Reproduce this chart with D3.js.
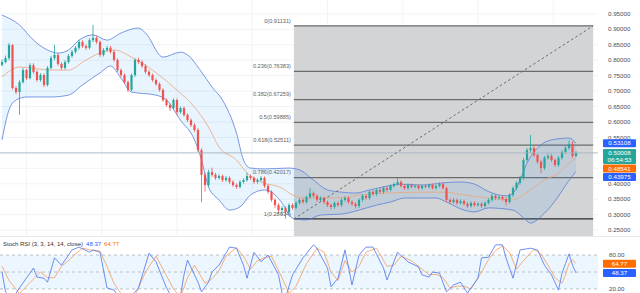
<!DOCTYPE html>
<html><head><meta charset="utf-8">
<script src="https://cdn.jsdelivr.net/npm/d3@7"></script>
<style>html,body{margin:0;padding:0;background:#fff;overflow:hidden}svg{display:block}</style>
</head><body>
<svg id="c" width="640" height="293"></svg>
<script>
// ---- candle data (price units) ----
const opens = [
0.785,0.794,0.807,0.849,0.710,0.697,0.729,0.768,0.742,0.784,
0.762,0.736,0.752,0.720,0.775,0.807,0.817,0.788,0.775,0.794,
0.814,0.827,0.840,0.859,0.846,0.840,0.865,0.872,0.859,0.817,
0.833,0.840,0.827,0.801,0.768,0.752,0.729,0.704,0.752,0.801,
0.794,0.781,0.762,0.752,0.736,0.723,0.704,0.671,0.655,0.645,
0.671,0.632,0.645,0.623,0.606,0.590,0.574,0.509,0.429,0.396,
0.438,0.429,0.419,0.425,0.412,0.419,0.406,0.396,0.390,0.406,
0.412,0.425,0.419,0.406,0.412,0.419,0.393,0.374,0.348,0.331,
0.315,0.322,0.309,0.331,0.322,0.338,0.348,0.341,0.357,0.370,
0.361,0.348,0.354,0.341,0.331,0.325,0.338,0.331,0.348,0.354,
0.341,0.335,0.328,0.348,0.361,0.354,0.374,0.367,0.380,0.374,
0.386,0.380,0.393,0.399,0.406,0.393,0.386,0.396,0.390,0.393,
0.386,0.393,0.390,0.396,0.386,0.393,0.399,0.386,0.348,0.341,
0.348,0.338,0.344,0.335,0.328,0.338,0.331,0.335,0.328,0.338,
0.348,0.361,0.354,0.357,0.351,0.341,0.364,0.386,0.403,0.419,
0.477,0.509,0.516,0.493,0.471,0.451,0.484,0.490,0.477,0.461,
0.484,0.503,0.516,0.529,0.490];
const highs = [
0.802,0.815,0.856,0.852,0.716,0.735,0.775,0.772,0.790,0.790,
0.768,0.758,0.757,0.781,0.814,0.850,0.822,0.793,0.800,0.820,
0.833,0.846,0.866,0.864,0.851,0.871,0.914,0.878,0.864,0.839,
0.846,0.846,0.832,0.806,0.773,0.757,0.734,0.757,0.806,0.808,
0.800,0.787,0.768,0.757,0.741,0.728,0.709,0.676,0.660,0.677,
0.676,0.650,0.650,0.628,0.612,0.596,0.580,0.515,0.435,0.445,
0.452,0.435,0.431,0.430,0.425,0.424,0.412,0.401,0.412,0.418,
0.436,0.430,0.424,0.418,0.425,0.424,0.398,0.379,0.353,0.337,
0.328,0.327,0.337,0.336,0.344,0.354,0.353,0.362,0.386,0.375,
0.366,0.360,0.359,0.346,0.336,0.343,0.343,0.353,0.360,0.359,
0.347,0.340,0.353,0.367,0.366,0.379,0.380,0.385,0.386,0.392,
0.392,0.398,0.404,0.419,0.411,0.398,0.401,0.401,0.398,0.398,
0.398,0.398,0.401,0.401,0.398,0.405,0.404,0.391,0.353,0.354,
0.353,0.350,0.349,0.340,0.343,0.343,0.340,0.340,0.343,0.353,
0.367,0.366,0.362,0.362,0.356,0.369,0.392,0.409,0.425,0.484,
0.516,0.558,0.522,0.498,0.477,0.490,0.497,0.496,0.482,0.490,
0.509,0.522,0.540,0.537,0.506];
const lows = [
0.780,0.790,0.800,0.705,0.690,0.623,0.724,0.736,0.738,0.756,
0.730,0.730,0.713,0.715,0.770,0.800,0.782,0.769,0.770,0.789,
0.808,0.821,0.834,0.840,0.834,0.835,0.859,0.853,0.811,0.812,
0.827,0.821,0.795,0.762,0.746,0.723,0.697,0.699,0.746,0.788,
0.775,0.756,0.746,0.730,0.717,0.698,0.665,0.649,0.636,0.640,
0.622,0.627,0.617,0.600,0.584,0.568,0.503,0.340,0.375,0.390,
0.423,0.413,0.414,0.406,0.407,0.400,0.390,0.384,0.385,0.401,
0.407,0.413,0.400,0.400,0.406,0.387,0.368,0.342,0.322,0.305,
0.298,0.287,0.303,0.316,0.317,0.332,0.335,0.336,0.351,0.355,
0.342,0.342,0.335,0.325,0.318,0.319,0.326,0.325,0.342,0.335,
0.329,0.320,0.322,0.342,0.348,0.348,0.361,0.361,0.368,0.368,
0.374,0.375,0.388,0.394,0.388,0.380,0.381,0.385,0.385,0.381,
0.381,0.385,0.385,0.381,0.381,0.388,0.381,0.342,0.335,0.336,
0.332,0.333,0.330,0.322,0.323,0.326,0.326,0.322,0.323,0.333,
0.342,0.348,0.348,0.345,0.330,0.336,0.358,0.380,0.397,0.413,
0.470,0.500,0.487,0.465,0.435,0.445,0.478,0.471,0.455,0.455,
0.478,0.497,0.510,0.484,0.486];
const closes = [
0.794,0.807,0.849,0.710,0.697,0.729,0.768,0.742,0.784,0.762,
0.736,0.752,0.720,0.775,0.807,0.817,0.788,0.775,0.794,0.814,
0.827,0.840,0.859,0.846,0.840,0.865,0.872,0.859,0.817,0.833,
0.840,0.827,0.801,0.768,0.752,0.729,0.704,0.752,0.801,0.794,
0.781,0.762,0.752,0.736,0.723,0.704,0.671,0.655,0.645,0.671,
0.632,0.645,0.623,0.606,0.590,0.574,0.509,0.429,0.396,0.438,
0.429,0.419,0.425,0.412,0.419,0.406,0.396,0.390,0.406,0.412,
0.425,0.419,0.406,0.412,0.419,0.393,0.374,0.348,0.331,0.315,
0.322,0.309,0.331,0.322,0.338,0.348,0.341,0.357,0.370,0.361,
0.348,0.354,0.341,0.331,0.325,0.338,0.331,0.348,0.354,0.341,
0.335,0.328,0.348,0.361,0.354,0.374,0.367,0.380,0.374,0.386,
0.380,0.393,0.399,0.406,0.393,0.386,0.396,0.390,0.393,0.386,
0.393,0.390,0.396,0.386,0.393,0.399,0.386,0.348,0.341,0.348,
0.338,0.344,0.335,0.328,0.338,0.331,0.335,0.328,0.338,0.348,
0.361,0.354,0.357,0.351,0.341,0.364,0.386,0.403,0.419,0.477,
0.509,0.516,0.493,0.471,0.451,0.484,0.490,0.477,0.461,0.484,
0.503,0.516,0.529,0.490,0.500];

// ---- Bollinger bands (bar index, value) ----
const bbUpperIdx = [0,5,9,13,16,19,22,26,30,34,39,41,46,51,53,57,60,63,67,69,71,75,82,85,89,93,97,101,105,109,114,120,126,131,135,139,144,146,148,150,154,157,162,164];
const bbUpperVal = [0.946,0.914,0.865,0.833,0.823,0.833,0.865,0.882,0.865,0.888,0.904,0.888,0.810,0.826,0.817,0.762,0.713,0.671,0.564,0.477,0.451,0.448,0.451,0.445,0.412,0.380,0.373,0.370,0.380,0.390,0.399,0.396,0.403,0.406,0.399,0.375,0.361,0.370,0.412,0.467,0.526,0.542,0.548,0.531];
const bbLowerIdx = [0,2,4,7,14,19,23,28,31,34,37,44,47,51,55,57,59,62,65,68,71,75,78,80,83,87,91,97,102,107,111,115,124,127,132,135,139,146,149,151,155,159,161,164];
const bbLowerVal = [0.542,0.639,0.671,0.681,0.681,0.687,0.720,0.759,0.781,0.742,0.697,0.687,0.671,0.606,0.542,0.477,0.390,0.348,0.315,0.325,0.364,0.380,0.364,0.338,0.289,0.283,0.299,0.302,0.315,0.331,0.341,0.354,0.354,0.341,0.315,0.309,0.322,0.315,0.290,0.273,0.305,0.360,0.395,0.440];
const bbMidIdx = [0,5,14,19,24,28,32,37,43,49,55,59,62,67,70,74,80,83,87,93,99,102,110,120,126,132,139,146,150,155,159,162,164];
const bbMidVal = [0.746,0.778,0.768,0.768,0.801,0.823,0.833,0.810,0.768,0.713,0.648,0.584,0.519,0.477,0.435,0.406,0.386,0.364,0.354,0.354,0.357,0.364,0.370,0.373,0.373,0.364,0.354,0.348,0.373,0.412,0.435,0.467,0.485];

// ---- Stoch RSI ----
const kIdx = [0,1,3,5,9,10,12,13,15,17,19,20,22,25,26,28,30,32,34,36,39,42,44,47,49,51,52,53,56,57,59,60,62,65,67,69,70,72,74,76,79,80,81,83,86,89,90,91,93,94,96,98,100,102,104,106,109,110,113,116,119,120,122,123,125,127,129,131,133,136,137,139,141,143,144,146,148,151,153,155,157,159,160,161,162,163,164];
const kVal = [50,15,3,22,57,41,39,32,75,62,80,89,94,85,89,85,22,18,0,0,22,83,68,22,0,8,45,71,32,15,32,50,62,94,92,62,39,85,68,80,45,13,4,45,75,98,92,80,57,24,39,89,27,80,94,94,57,36,85,68,59,45,41,50,48,15,27,32,13,39,75,76,98,98,75,39,89,92,89,62,45,18,48,65,82,62,48.37];
const dIdx = [0,2,5,7,11,13,15,17,19,21,23,26,28,30,32,34,36,38,41,44,46,49,51,53,55,58,60,62,64,67,69,71,73,75,77,80,82,84,87,90,92,94,96,98,100,102,104,107,110,112,114,117,120,122,124,126,128,130,132,134,137,139,141,143,145,147,149,152,154,156,158,160,161,162,163,164];
const dVal = [60,35,12,25,50,40,40,60,70,82,92,88,87,60,30,12,3,8,50,78,55,20,5,40,62,30,38,52,78,93,78,55,70,75,78,40,12,25,65,92,85,50,35,70,50,60,85,92,60,62,78,70,55,45,46,40,22,25,25,20,50,72,88,96,85,55,70,90,82,62,40,30,45,65,72,64.77];

// ---- Fibonacci ----
const fibRatios = [0, 0.236, 0.382, 0.5, 0.618, 0.786, 1];
const fibPrices = [0.91131, 0.76383, 0.67259, 0.59885, 0.52511, 0.42017, 0.28634];
const fibStartIdx = 83.4, fibEndIdx = 168.9;

// ---- axis ticks / labels ----
const priceTicks = [0.25,0.30,0.35,0.40,0.45,0.50,0.55,0.60,0.65,0.70,0.75,0.80,0.85,0.90,0.95];
const stochLevels = [80, 50, 20];
const stochTickLabels = [80, 20];
const timeGridIdx = [7, 28.5, 50, 71.5, 93, 114.5, 136, 157.5];
const lastPrice = 0.50008, countdown = "06:54:53";
const upperLast = 0.53108, midLast = 0.48541, lowerLast = 0.43975;
const kLast = 48.37, dLast = 64.77;

// ===== drawing =====
const svg = d3.select("#c");
const FONT = "'Liberation Sans', Arial, sans-serif";
const plotR = 598, mainBot = 236;
const x = d3.scaleLinear().domain([0, 164]).range([2, 576]);
const y = d3.scaleLinear().domain([0.25, 0.95]).range([230.15, 13.85]);
const ys = d3.scaleLinear().domain([0, 100]).range([300.3, 243.7]);

const defs = svg.append("defs");
defs.append("clipPath").attr("id","mainClip").append("rect").attr("x",0).attr("y",0).attr("width",plotR).attr("height",mainBot);
defs.append("clipPath").attr("id","stClip").append("rect").attr("x",0).attr("y",mainBot+1).attr("width",plotR).attr("height",293-mainBot);

const main = svg.append("g").attr("clip-path","url(#mainClip)");

// grid
main.selectAll("line.hg").data(priceTicks).join("line")
  .attr("x1",0).attr("x2",plotR).attr("y1",d=>y(d)).attr("y2",d=>y(d))
  .attr("stroke","#f1f3f6").attr("stroke-width",1);
main.selectAll("line.vg").data(timeGridIdx).join("line")
  .attr("x1",d=>x(d)).attr("x2",d=>x(d)).attr("y1",0).attr("y2",mainBot)
  .attr("stroke","#f1f3f6").attr("stroke-width",1);

// fib fill
const fx0 = x(fibStartIdx), fx1 = x(fibEndIdx);
main.append("rect").attr("x",fx0).attr("y",y(fibPrices[0])).attr("width",fx1-fx0)
  .attr("height",mainBot - y(fibPrices[0])).attr("fill","#d3d4d6");
main.selectAll("line.fib").data(fibPrices).join("line")
  .attr("x1",fx0).attr("x2",fx1).attr("y1",d=>y(d)).attr("y2",d=>y(d))
  .attr("stroke",(d,i)=> i===fibPrices.length-1 ? "#2b2b2b" : "#6b6b6b").attr("stroke-width",1.3);

// Bollinger
const pts = (idx, val) => idx.map((d,i)=>[x(d), y(val[i])]);
const up = pts(bbUpperIdx,bbUpperVal), lo = pts(bbLowerIdx,bbLowerVal), mid = pts(bbMidIdx,bbMidVal);
const lineGen = d3.line().curve(d3.curveMonotoneX);
const fillPath = lineGen(up) + "L" + lineGen(lo.slice().reverse()).slice(1) + "Z";
main.append("path").attr("d", fillPath).attr("fill","rgba(33,150,243,0.10)");
main.append("path").attr("d", lineGen(up)).attr("fill","none").attr("stroke","#5b7fd8").attr("stroke-width",0.8);
main.append("path").attr("d", lineGen(lo)).attr("fill","none").attr("stroke","#5b7fd8").attr("stroke-width",0.8);
main.append("path").attr("d", lineGen(mid)).attr("fill","none").attr("stroke","#eda47a").attr("stroke-width",0.8);

// candles
const candles = closes.map((c,i)=>({i,o:opens[i],h:highs[i],l:lows[i],c}));
const col = d => d.c >= d.o ? "#26a69a" : "#ef5350";
main.selectAll("line.wick").data(candles).join("line")
  .attr("x1",d=>x(d.i)).attr("x2",d=>x(d.i)).attr("y1",d=>y(d.h)).attr("y2",d=>y(d.l))
  .attr("stroke",col).attr("stroke-width",0.8);
main.selectAll("rect.body").data(candles).join("rect")
  .attr("x",d=>x(d.i)-1.1).attr("width",2.2)
  .attr("y",d=>y(Math.max(d.o,d.c))).attr("height",d=>Math.max(0.8, Math.abs(y(d.o)-y(d.c))))
  .attr("fill",col);

// last price line
main.append("line").attr("x1",0).attr("x2",plotR).attr("y1",y(lastPrice)).attr("y2",y(lastPrice))
  .attr("stroke","#9fb3bf").attr("stroke-width",0.8);

// dashed trend line
main.append("line").attr("x1",fx0).attr("y1",y(fibPrices[fibPrices.length-1]))
  .attr("x2",fx1).attr("y2",y(fibPrices[0]))
  .attr("stroke","#6a6a6a").attr("stroke-width",1).attr("stroke-dasharray","2.5,2.5");

// fib labels
main.selectAll("text.fibl").data(fibRatios).join("text")
  .attr("x",fx0-3).attr("y",(d,i)=>y(fibPrices[i])-3.2)
  .attr("text-anchor","end").attr("font-family",FONT).attr("font-size",5.6).attr("fill","#5f5f5f")
  .text((d,i)=>`${d}(${fibPrices[i].toFixed(5)})`);

// price axis labels
svg.selectAll("text.pt").data(priceTicks).join("text")
  .attr("x",608).attr("y",d=>y(d)+2.1).attr("font-family",FONT).attr("font-size",6.2).attr("fill","#4d4d4d")
  .text(d=>d3.format(".5f")(d));

// price boxes with collision
function boxes(items, scale) {
  items.sort((a,b)=>scale(a.v)-scale(b.v));
  let last = -1e9;
  items.forEach(it=>{
    let top = scale(it.v) - 4;
    if (top < last + 0.6) top = last + 0.6;
    it.top = top; last = top + it.h;
  });
  items.forEach(it=>{
    svg.append("rect").attr("x",603).attr("y",it.top).attr("width",33).attr("height",it.h).attr("rx",1).attr("fill",it.c);
    it.lines.forEach((t,k)=>{
      svg.append("text").attr("x",619.5).attr("y",it.top+6.1+k*7).attr("text-anchor","middle")
        .attr("font-family",FONT).attr("font-size",6.2).attr("fill","#fff").text(t);
    });
  });
}
const fmt5 = d3.format(".5f");
boxes([
  {v:upperLast, c:"#2962ff", h:8, lines:[fmt5(upperLast)]},
  {v:lastPrice, c:"#26a69a", h:15, lines:[fmt5(lastPrice), countdown]},
  {v:midLast, c:"#ff6d00", h:8, lines:[fmt5(midLast)]},
  {v:lowerLast, c:"#2962ff", h:8, lines:[fmt5(lowerLast)]}
], y);

// pane separator
svg.append("line").attr("x1",0).attr("x2",640).attr("y1",mainBot+0.5).attr("y2",mainBot+0.5)
  .attr("stroke","#e6e8ee").attr("stroke-width",1);

// ---- Stoch pane ----
const st = svg.append("g").attr("clip-path","url(#stClip)");
st.append("rect").attr("x",0).attr("width",plotR).attr("y",ys(80)).attr("height",ys(20)-ys(80))
  .attr("fill","rgba(33,150,243,0.09)");
st.selectAll("line.sl").data(stochLevels).join("line")
  .attr("x1",0).attr("x2",plotR).attr("y1",d=>ys(d)).attr("y2",d=>ys(d))
  .attr("stroke","#aeb1b8").attr("stroke-width",0.8).attr("stroke-dasharray","3,3");
const sl = d3.line().curve(d3.curveLinear);
st.append("path").attr("d", sl(dIdx.map((d,i)=>[x(d), ys(dVal[i])]))).attr("fill","none").attr("stroke","#f99a5c").attr("stroke-width",0.8);
st.append("path").attr("d", sl(kIdx.map((d,i)=>[x(d), ys(kVal[i])]))).attr("fill","none").attr("stroke","#4a72ee").attr("stroke-width",0.8);

const title = svg.append("text").attr("x",3).attr("y",246).attr("font-family",FONT).attr("font-size",6).attr("fill","#333");
title.append("tspan").text("Stoch RSI (3, 3, 14, 14, close)");
title.append("tspan").attr("dx",3).attr("fill","#2962ff").text(kLast.toFixed(2));
title.append("tspan").attr("dx",3).attr("fill","#ff6d00").text(dLast.toFixed(2));

svg.selectAll("text.stt").data(stochTickLabels).join("text")
  .attr("x",609).attr("y",d=>ys(d)+2.1).attr("font-family",FONT).attr("font-size",6.2).attr("fill","#4d4d4d")
  .text(d=>d.toFixed(2));
boxes([
  {v:dLast, c:"#ff6d00", h:8, lines:[dLast.toFixed(2)]},
  {v:kLast, c:"#2962ff", h:8, lines:[kLast.toFixed(2)]}
], ys);
</script>
</body></html>
